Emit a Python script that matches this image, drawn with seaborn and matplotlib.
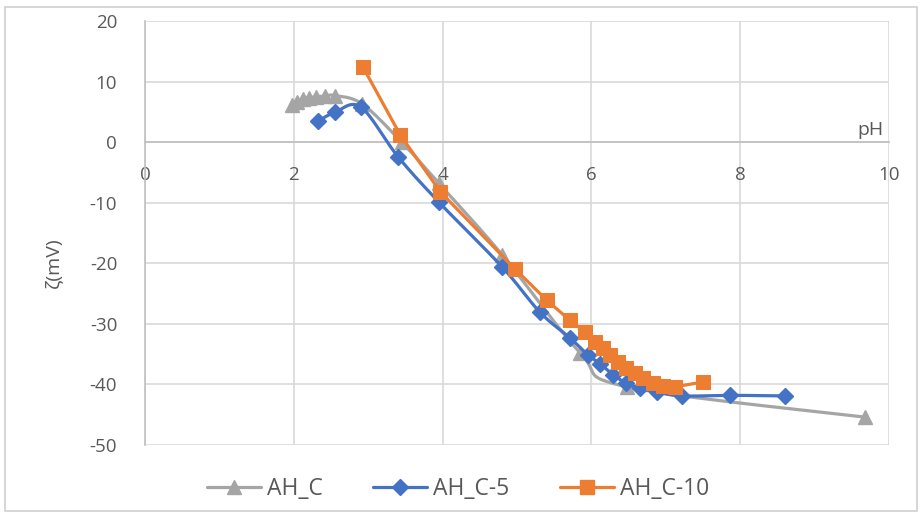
import numpy as np
import pandas as pd
import matplotlib
matplotlib.use("Agg")
import matplotlib.pyplot as plt
import seaborn as sns
from matplotlib.lines import Line2D
from matplotlib.patches import Rectangle

# ---------------- data ----------------
ph_ahc = [1.97, 2.04, 2.12, 2.20, 2.30, 2.42, 2.55, 2.92, 3.45, 3.95, 4.80, 5.85, 6.48, 9.68]
zeta_ahc = [6.2, 6.7, 7.1, 7.3, 7.5, 7.6, 7.7, 6.3, 0.0, -6.8, -18.6, -34.8, -40.4, -45.4]

ph_ahc5 = [2.33, 2.55, 2.90, 3.40, 3.95, 4.80, 5.31, 5.71, 5.95, 6.12, 6.29, 6.47, 6.65, 6.88, 7.22, 7.86, 8.60]
zeta_ahc5 = [3.5, 4.9, 5.8, -2.4, -9.9, -20.6, -28.1, -32.3, -35.1, -36.6, -38.4, -39.8, -40.6, -41.3, -41.9, -41.8, -41.9]

ph_ahc10 = [2.93, 3.43, 3.97, 4.97, 5.40, 5.71, 5.91, 6.05, 6.16, 6.25, 6.36, 6.47, 6.59, 6.69, 6.83, 6.96, 7.12, 7.50]
zeta_ahc10 = [12.4, 1.2, -8.2, -20.9, -26.1, -29.4, -31.3, -33.0, -34.0, -35.1, -36.3, -37.3, -38.1, -38.9, -39.8, -40.3, -40.4, -39.6]

series_names = ["AH_C", "AH_C-5", "AH_C-10"]
x_ticks = [0, 2, 4, 6, 8, 10]
y_ticks = [20, 10, 0, -10, -20, -30, -40, -50]

GRAY, BLUE, ORANGE = "#A5A5A5", "#4472C4", "#ED7D31"
TXT = "#595959"
GRID = "#D9D9D9"


def smooth_path(x, y, n=16):
    """Excel-style smoothed line path (Bezier through the points)."""
    p = np.column_stack([x, y]).astype(float)
    p = np.vstack([p[0], p, p[-1]])
    out = []
    t = np.linspace(0, 1, n, endpoint=False)
    for i in range(1, len(p) - 2):
        p0, p1, p2, p3 = p[i - 1], p[i], p[i + 1], p[i + 2]
        c1 = p1 + (p2 - p0) / 6.0
        c2 = p2 - (p3 - p1) / 6.0
        seg = ((1 - t) ** 3)[:, None] * p1 + (3 * (1 - t) ** 2 * t)[:, None] * c1 \
            + (3 * (1 - t) * t ** 2)[:, None] * c2 + (t ** 3)[:, None] * p2
        out.append(seg)
    out.append(p[-2][None, :])
    out = np.vstack(out)
    return out[:, 0], out[:, 1]


sns.set_theme(style="white")
plt.rcParams["font.family"] = ["Open Sans", "DejaVu Sans"]

fig = plt.figure(figsize=(9.24, 5.18), dpi=100)
fig.patch.set_facecolor("white")
fig.patches.append(Rectangle((5 / 924, 1 - 511 / 518), 912 / 924, 504 / 518,
                             transform=fig.transFigure, fill=False,
                             edgecolor="#D0D0D0", linewidth=1.2))

ax = fig.add_axes([145 / 924, 1 - 445 / 518, (889 - 145) / 924, (445 - 21) / 518])

lw = 2.3
ms = 9

# AH_C (gray, smoothed, triangles)
sx, sy = smooth_path(ph_ahc, zeta_ahc)
sns.lineplot(x=sx, y=sy, sort=False, estimator=None, color=GRAY, linewidth=lw, ax=ax, zorder=2)
ax.plot(ph_ahc, zeta_ahc, linestyle="none", marker="^", markersize=ms + 1,
        color=GRAY, markeredgecolor=GRAY, zorder=2.1)

# AH_C-5 (blue, smoothed, diamonds)
sx, sy = smooth_path(ph_ahc5, zeta_ahc5)
sns.lineplot(x=sx, y=sy, sort=False, estimator=None, color=BLUE, linewidth=lw, ax=ax, zorder=3)
ax.plot(ph_ahc5, zeta_ahc5, linestyle="none", marker="D", markersize=ms - 1,
        color=BLUE, markeredgecolor=BLUE, zorder=3.1)

# AH_C-10 (orange, squares)
sns.lineplot(x=ph_ahc10, y=zeta_ahc10, sort=False, estimator=None, color=ORANGE,
             linewidth=lw, marker="s", markersize=ms + 1, markeredgecolor=ORANGE,
             ax=ax, zorder=4)

ax.set_xlim(0, 10)
ax.set_ylim(-50, 20)
ax.set_xticks(x_ticks)
ax.set_yticks(y_ticks)
ax.set_xticklabels([str(v) for v in x_ticks])
ax.set_yticklabels([str(v) for v in y_ticks])
ax.grid(True, color=GRID, linewidth=1.2)
ax.set_axisbelow(True)

for s in ["top", "right"]:
    ax.spines[s].set_visible(False)
ax.spines["left"].set_color("#BFBFBF")
ax.spines["left"].set_linewidth(1.2)
ax.spines["bottom"].set_position(("data", 0))
ax.spines["bottom"].set_color("#BFBFBF")
ax.spines["bottom"].set_linewidth(1.2)

ax.tick_params(axis="x", length=0, pad=17, labelsize=13.5, labelcolor=TXT)
ax.tick_params(axis="y", length=0, pad=20, labelsize=13.5, labelcolor=TXT)
ax.set_xlabel("")
ax.set_ylabel("ζ(mV)", fontsize=14, color=TXT)
ax.yaxis.set_label_coords(-0.112, 0.43)

ax.text(9.93, 0.6, "pH", ha="right", va="bottom", fontsize=14, color=TXT)

handles = [
    Line2D([], [], color=GRAY, linewidth=lw, marker="^", markersize=ms + 1, markeredgecolor=GRAY),
    Line2D([], [], color=BLUE, linewidth=lw, marker="D", markersize=ms - 1, markeredgecolor=BLUE),
    Line2D([], [], color=ORANGE, linewidth=lw, marker="s", markersize=ms + 1, markeredgecolor=ORANGE),
]
leg = fig.legend(handles, series_names, loc="center", bbox_to_anchor=(458 / 924, 1 - 489 / 518),
                 ncol=3, frameon=False, fontsize=16.5, handlelength=2.36, handletextpad=0.26,
                 columnspacing=2.2)
for t in leg.get_texts():
    t.set_color(TXT)

fig.savefig("out.png", dpi=100, facecolor="white")
